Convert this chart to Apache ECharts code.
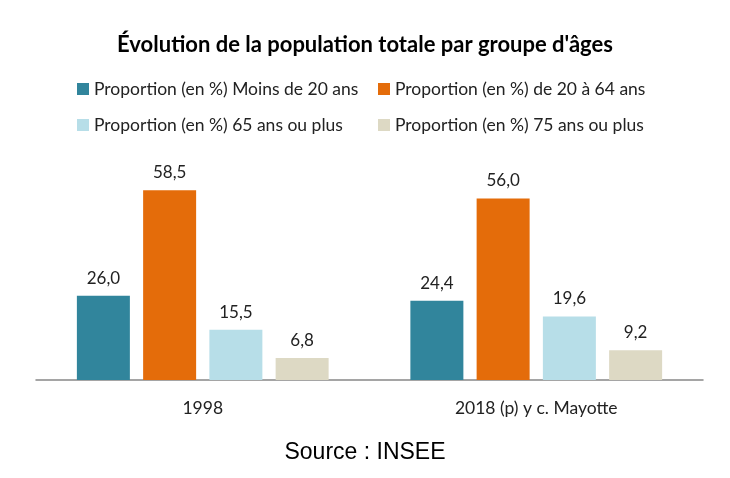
<!DOCTYPE html>
<html><head><meta charset="utf-8">
<script src="https://cdn.jsdelivr.net/npm/echarts@6/dist/echarts.min.js"></script>
<style>html,body{margin:0;padding:0;background:#fff}#c{width:730px;height:478px}</style>
</head><body><div id="c"></div>
<script>
const categories = ['1998', '2018 (p) y c. Mayotte'];
const seriesNames = [
  'Proportion (en %) Moins de 20 ans',
  'Proportion (en %) de 20 à 64 ans',
  'Proportion (en %) 65 ans ou plus',
  'Proportion (en %) 75 ans ou plus'
];
const moins20 = [26.0, 24.4];
const de20a64 = [58.5, 56.0];
const plus65 = [15.5, 19.6];
const plus75 = [6.8, 9.2];
const values = [moins20, de20a64, plus65, plus75];
const colors = ['#31859C', '#E46C0A', '#B7DEE8', '#DDD9C4'];

const font = 'Lato, "Open Sans", sans-serif';
const legendPos = [[72, 75], [373, 75], [72, 111], [373, 111]];

const chart = echarts.init(document.getElementById('c'));
chart.setOption({
  animation: false,
  title: [{
    text: 'Évolution de la population totale par groupe d\'âges',
    left: 'center', top: 29,
    textStyle: {fontFamily: font, fontSize: 22, fontWeight: 'bold', color: '#000'}
  }, {
    text: 'Source : INSEE',
    left: 'center', top: 436,
    textStyle: {fontFamily: '"Liberation Sans", Arial, sans-serif', fontSize: 23, fontWeight: 'normal', color: '#000'}
  }],
  legend: seriesNames.map((n, i) => ({
    data: [n], left: legendPos[i][0], top: legendPos[i][1],
    icon: 'rect', itemWidth: 12, itemHeight: 12, itemGap: 4,
    textStyle: {fontFamily: font, fontSize: 17.5, color: '#222'}
  })),
  grid: {left: 36, right: 27, top: 153, bottom: 98},
  xAxis: {
    type: 'category', data: categories,
    axisLine: {lineStyle: {color: '#888', width: 1.5}},
    axisTick: {show: false},
    axisLabel: {fontFamily: font, fontSize: 17.5, color: '#222', margin: 19}
  },
  yAxis: {type: 'value', min: 0, max: 70, show: false, splitLine: {show: false}},
  series: seriesNames.map((n, i) => ({
    name: n, type: 'bar', data: values[i], barWidth: 53, barGap: '25%',
    itemStyle: {color: colors[i]},
    label: {
      show: true, position: 'top', distance: 9,
      fontFamily: font, fontSize: 17, color: '#222',
      formatter: p => p.value.toFixed(1).replace('.', ',')
    }
  }))
});
</script></body></html>
